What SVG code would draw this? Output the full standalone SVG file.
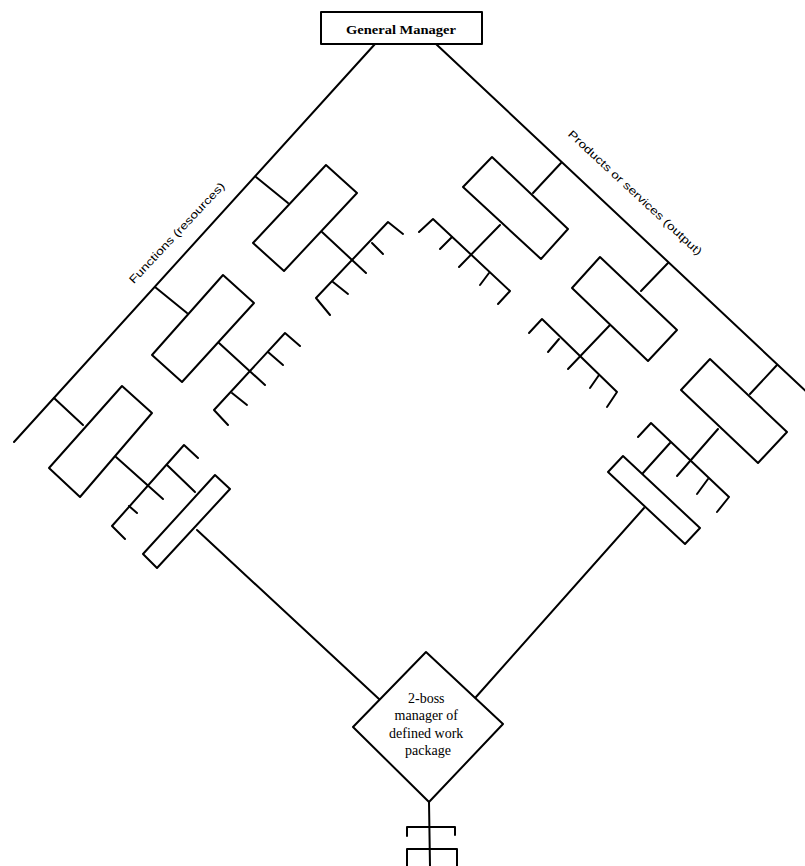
<svg xmlns="http://www.w3.org/2000/svg" width="805" height="866" viewBox="0 0 805 866">
  <style>
    .ln { fill: none; stroke: #000; stroke-width: 2; stroke-linecap: round; stroke-linejoin: round; }
    .box { fill: #fff; stroke: #000; stroke-width: 2; stroke-linejoin: round; }
    .t { font-family: "Liberation Serif", "Times New Roman", serif; fill: #000; }
    .lbl { font-family: "Liberation Sans", Arial, sans-serif; font-size: 11px; fill: #000; }
  </style>
  <rect width="805" height="866" fill="#fff"/>

  <!-- connectors: main axes, branch links, combs -->
  <g id="connectors" class="ln">
    <!-- two main axes from the general manager -->
    <line x1="375" y1="44" x2="14" y2="442"/>
    <line x1="436" y1="44" x2="812" y2="397"/>

    <!-- functions side: axis to unit links -->
    <line x1="256" y1="177" x2="288" y2="203"/>
    <line x1="155" y1="287" x2="187" y2="313"/>
    <line x1="54" y1="398" x2="83" y2="425"/>

    <!-- functions side combs -->
    <line x1="322" y1="232" x2="366" y2="273"/>
    <path d="M403,234 L388,222 L316,298 L330,315"/>
    <line x1="372" y1="243" x2="383" y2="254"/>
    <line x1="333" y1="282" x2="348" y2="294"/>

    <line x1="219" y1="343" x2="265" y2="385"/>
    <path d="M300,346 L285,333 L214,410 L228,425"/>
    <line x1="268" y1="352" x2="283" y2="365"/>
    <line x1="232" y1="393" x2="247" y2="405"/>

    <line x1="116" y1="457" x2="163" y2="499"/>
    <path d="M198,458 L184,445 L112,526 L125,539"/>
    <line x1="167" y1="465" x2="195" y2="492"/>
    <line x1="129" y1="506" x2="137" y2="513"/>

    <!-- products side: axis to unit links -->
    <line x1="561" y1="163" x2="533" y2="193"/>
    <line x1="668" y1="263" x2="641" y2="291"/>
    <line x1="777" y1="365" x2="750" y2="394"/>

    <!-- products side combs -->
    <line x1="500" y1="225" x2="459" y2="267"/>
    <path d="M419,232 L433,219 L510,291 L498,304"/>
    <line x1="452" y1="237" x2="440" y2="249"/>
    <line x1="489" y1="273" x2="480" y2="285"/>

    <line x1="610" y1="325" x2="568" y2="369"/>
    <path d="M529,333 L542,319 L617,392 L607,407"/>
    <line x1="559" y1="339" x2="548" y2="352"/>
    <line x1="599" y1="375" x2="590" y2="388"/>

    <line x1="718" y1="429" x2="677" y2="476"/>
    <path d="M638,437 L651,423 L729,497 L717,512"/>
    <line x1="670" y1="443" x2="643" y2="473"/>
    <line x1="708" y1="479" x2="697" y2="494"/>

    <!-- links to the two-boss manager -->
    <line x1="197" y1="530" x2="379" y2="699"/>
    <line x1="644" y1="508" x2="476" y2="697"/>

    <!-- below the two-boss manager -->
    <line x1="429" y1="802" x2="430" y2="866"/>
    <path d="M407,836 V827 H455 V835"/>
    <path d="M407,866 V849 H457 V866"/>
  </g>

  <!-- general manager -->
  <g id="general-manager">
    <rect class="box" x="321" y="12" width="161" height="32"/>
    <text class="t" x="401" y="34" font-size="13" font-weight="bold" text-anchor="middle" textLength="110" lengthAdjust="spacingAndGlyphs">General Manager</text>
  </g>

  <!-- axis labels -->
  <g id="label-functions">
    <text class="lbl" text-anchor="middle" textLength="134" lengthAdjust="spacingAndGlyphs" transform="translate(179.5,235.5) rotate(-46.8)">Functions (resources)</text>
  </g>
  <g id="label-products">
    <text class="lbl" text-anchor="middle" textLength="178" lengthAdjust="spacingAndGlyphs" transform="translate(632.5,195.5) rotate(42.8)">Products or services (output)</text>
  </g>

  <!-- functional units -->
  <g id="function-1"><polygon class="box" points="326,165 357,193 284,271 253,243"/></g>
  <g id="function-2"><polygon class="box" points="223,275 254,303 182,382 152,355"/></g>
  <g id="function-3"><polygon class="box" points="122,386 152,413 80,497 49,468"/></g>
  <g id="function-boss"><polygon class="box" points="215,475 230,489 157,568 143,554"/></g>

  <!-- product units -->
  <g id="product-1"><polygon class="box" points="492,157 568,229 541,259 463,187"/></g>
  <g id="product-2"><polygon class="box" points="600,257 677,330 648,361 572,288"/></g>
  <g id="product-3"><polygon class="box" points="710,359 787,432 758,463 681,390"/></g>
  <g id="product-boss"><polygon class="box" points="623,456 700,528 685,544 608,472"/></g>

  <!-- two-boss manager -->
  <g id="two-boss-manager">
    <polygon class="box" points="426,652 503,724 429,802 353,727"/>
    <text class="t" font-size="14" text-anchor="middle">
      <tspan x="428" y="703">2-boss</tspan>
      <tspan x="428" y="720">manager of</tspan>
      <tspan x="428" y="738">defined work</tspan>
      <tspan x="428" y="755">package</tspan>
    </text>
  </g>
</svg>
